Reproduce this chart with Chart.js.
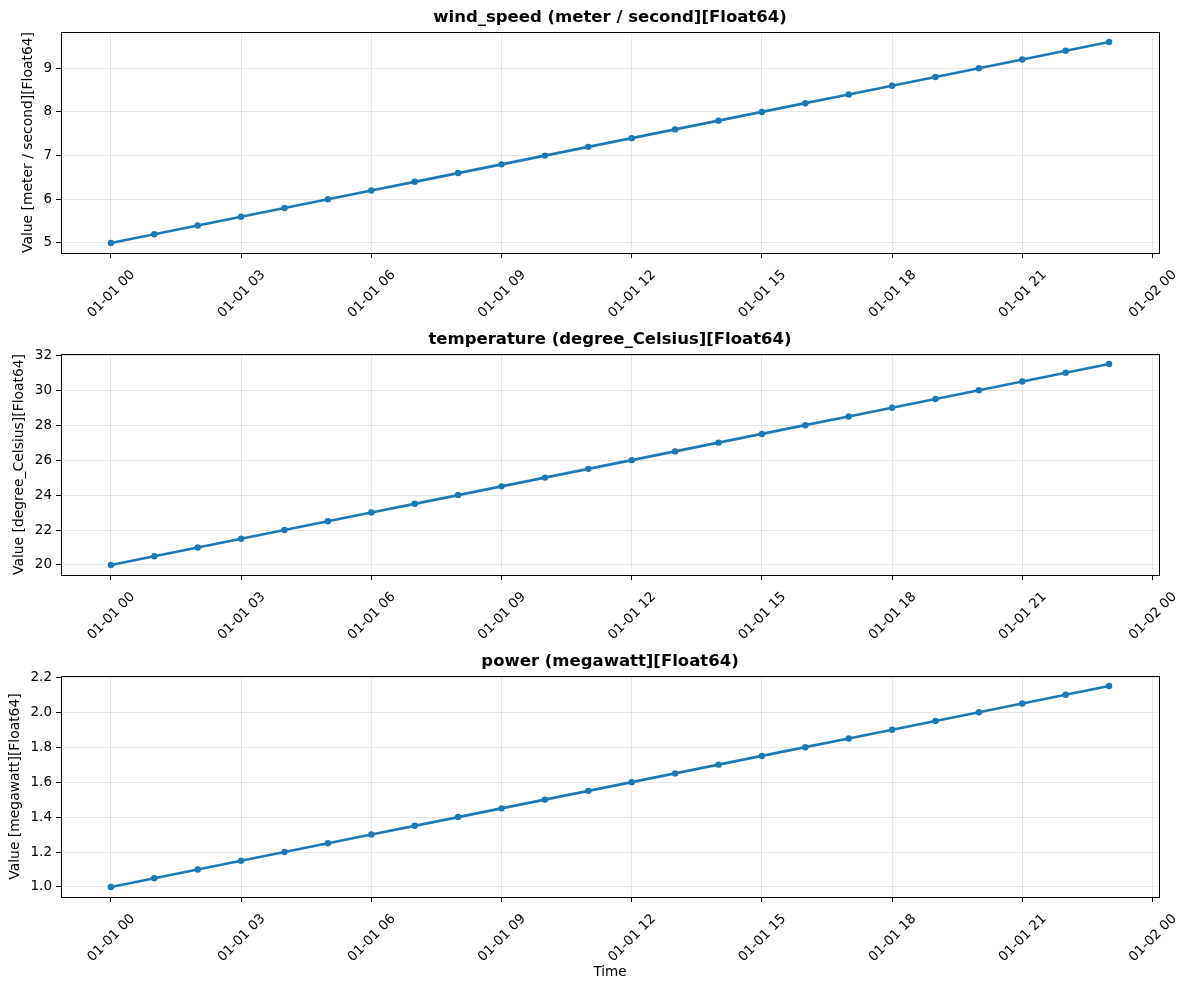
<!DOCTYPE html>
<html>
<head>
<meta charset="utf-8">
<script src="https://cdn.jsdelivr.net/npm/chart.js@4.4.1/dist/chart.umd.min.js"></script>
<style>
  body { margin: 0; background: #fff; }
  canvas { position: absolute; left: 0; }
</style>
</head>
<body>
<canvas id="c0" width="1189" height="322" style="top:0px"></canvas>
<canvas id="c1" width="1189" height="322" style="top:322px"></canvas>
<canvas id="c2" width="1189" height="346" style="top:644px"></canvas>
<script>
// --- data (hourly, 2000-01-01) ---
const hours = [0, 1, 2, 3, 4, 5, 6, 7, 8, 9, 10, 11, 12, 13, 14, 15, 16, 17, 18, 19, 20, 21, 22, 23];
const windSpeed = [5.0, 5.2, 5.4, 5.6, 5.8, 6.0, 6.2, 6.4, 6.6, 6.8, 7.0, 7.2, 7.4, 7.6, 7.8, 8.0, 8.2, 8.4, 8.6, 8.8, 9.0, 9.2, 9.4, 9.6];
const temperature = [20.0, 20.5, 21.0, 21.5, 22.0, 22.5, 23.0, 23.5, 24.0, 24.5, 25.0, 25.5, 26.0, 26.5, 27.0, 27.5, 28.0, 28.5, 29.0, 29.5, 30.0, 30.5, 31.0, 31.5];
const power = [1.00, 1.05, 1.10, 1.15, 1.20, 1.25, 1.30, 1.35, 1.40, 1.45, 1.50, 1.55, 1.60, 1.65, 1.70, 1.75, 1.80, 1.85, 1.90, 1.95, 2.00, 2.05, 2.10, 2.15];

// tick positions / labels
const timeTicks = [0, 3, 6, 9, 12, 15, 18, 21, 24];
const timeTickLabels = ['01-01 00', '01-01 03', '01-01 06', '01-01 09', '01-01 12', '01-01 15', '01-01 18', '01-01 21', '01-02 00'];
const windTicks = [5, 6, 7, 8, 9];
const tempTicks = [20, 22, 24, 26, 28, 30, 32];
const powerTicks = [1.0, 1.2, 1.4, 1.6, 1.8, 2.0, 2.2];

const FONT = 'DejaVu Sans';
const BLUE = '#1f77b4';

// title + full box (matplotlib style spines)
const frame = {
  id: 'frame',
  afterDraw(chart, args, opts) {
    const ctx = chart.ctx, a = chart.chartArea;
    ctx.save();
    ctx.strokeStyle = '#000';
    ctx.lineWidth = 1;
    ctx.strokeRect(Math.round(a.left) + 0.5, Math.round(a.top) + 0.5,
                   Math.round(a.right - a.left), Math.round(a.bottom - a.top));
    ctx.fillStyle = '#000';
    ctx.font = 'bold 16.5px ' + FONT;
    ctx.textAlign = 'center';
    ctx.textBaseline = 'middle';
    ctx.fillText(opts.text, (a.left + a.right) / 2, a.top - 14);
    ctx.restore();
  }
};

function withMargin(arr) {
  const lo = Math.min(...arr), hi = Math.max(...arr), m = (hi - lo) * 0.05;
  return [lo - m, hi + m];
}

function makeChart(id, values, title, ylabel, yTicks, decimals, ytitlePad, showTime) {
  const canvas = document.getElementById(id);
  const H = canvas.height;
  const [ymin, ymax] = withMargin(values);
  const [xmin, xmax] = withMargin(hours);
  return new Chart(canvas, {
    type: 'line',
    data: {
      datasets: [{
        data: hours.map((h, i) => ({ x: h, y: values[i] })),
        borderColor: BLUE,
        backgroundColor: BLUE,
        borderWidth: 2.7,
        pointRadius: 3.2,
        pointBorderWidth: 0,
        pointBackgroundColor: BLUE,
        tension: 0
      }]
    },
    options: {
      responsive: false,
      animation: false,
      layout: { padding: { top: 32, right: 30, left: 0, bottom: 0 } },
      plugins: { legend: { display: false }, tooltip: { enabled: false }, frame: { text: title } },
      scales: {
        x: {
          type: 'linear',
          min: xmin, max: xmax,
          afterBuildTicks: s => { s.ticks = timeTicks.map(v => ({ value: v })); },
          afterFit: s => { s.height = H - 253; },
          border: { display: false },
          grid: { color: 'rgba(176,176,176,0.3)', lineWidth: 1, tickColor: '#000', tickLength: 5 },
          ticks: {
            color: '#000', font: { family: FONT, size: 13.5 },
            minRotation: 45, maxRotation: 45, padding: 9, labelOffset: 22, autoSkip: false,
            callback: v => timeTickLabels[timeTicks.indexOf(v)]
          },
          title: {
            display: showTime, text: 'Time', color: '#000',
            font: { family: FONT, size: 13.5 }, padding: { top: 0, bottom: 9 }
          }
        },
        y: {
          min: ymin, max: ymax,
          afterBuildTicks: s => { s.ticks = yTicks.map(v => ({ value: v })); },
          afterFit: s => { s.width = 61; },
          border: { display: false },
          grid: { color: 'rgba(176,176,176,0.3)', lineWidth: 1, tickColor: '#000', tickLength: 5 },
          ticks: {
            color: '#000', font: { family: FONT, size: 13.5 }, padding: 4,
            callback: v => v.toFixed(decimals)
          },
          title: {
            display: true, text: ylabel, color: '#000',
            font: { family: FONT, size: 13.9 }, padding: { top: ytitlePad, bottom: 0 }
          }
        }
      }
    },
    plugins: [frame]
  });
}

makeChart('c0', windSpeed, 'wind_speed (meter / second][Float64)', 'Value [meter / second][Float64]', windTicks, 0, 20, false);
makeChart('c1', temperature, 'temperature (degree_Celsius][Float64)', 'Value [degree_Celsius][Float64]', tempTicks, 0, 11.5, false);
makeChart('c2', power, 'power (megawatt][Float64)', 'Value [megawatt][Float64]', powerTicks, 1, 7.5, true);
</script>
</body>
</html>
